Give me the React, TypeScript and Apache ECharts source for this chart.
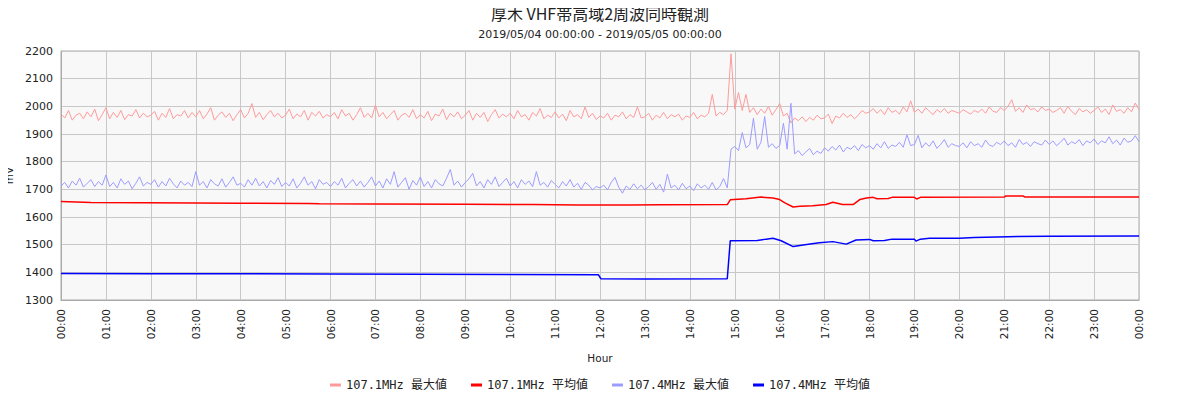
import React, { useEffect, useRef } from "react";
import * as echarts from "echarts";

const TITLE = "厚木 VHF帯高域2周波同時観測";
const SUBTITLE = "2019/05/04 00:00:00 - 2019/05/05 00:00:00";
const SERIES_NAMES = ["107.1MHz 最大値", "107.1MHz 平均値", "107.4MHz 最大値", "107.4MHz 平均値"];
const COLORS = ["#ff9a9a", "#ff0000", "#9c9cff", "#0000ff"];

// 5-minute samples, 00:00 .. 24:00
const max1071 = [
  1972, 1958, 1985, 1950, 1968, 1975, 1955, 1980, 1962, 1990, 1948, 1970,
  1995, 1955, 1978, 1960, 1985, 1952, 1970, 1965, 1988, 1958, 1975, 1962,
  1968, 1982, 1950, 1975, 1960, 1992, 1955, 1970, 1965, 1985, 1958, 1978,
  1962, 1985, 1955, 1972, 1995, 1950, 1968, 1980, 1960, 1975, 1948, 1970,
  1988, 1958, 1975, 2010, 1960, 1978, 1952, 1970, 1985, 1962, 1975, 1958,
  1968, 1990, 1955, 1972, 1962, 1985, 1950, 1978, 1965, 1982, 1958, 1970,
  1962, 1978, 1955, 1988, 1965, 1975, 1950, 1970, 1995, 1960, 1975, 1958,
  2004, 1962, 1978, 1955, 1970, 1985, 1950, 1968, 1975, 1960, 1988, 1955,
  1970, 1958, 1982, 1948, 1972, 1965, 1990, 1952, 1975, 1962, 1980, 1955,
  1968, 1985, 1950, 1975, 1960, 1978, 1945, 1970, 1988, 1958, 1972, 1962,
  1975, 1955, 1985, 1962, 1970, 1950, 1978, 1965, 1992, 1955, 1968, 1960,
  1980, 1958, 1972, 1948, 1985, 1962, 1970, 1955, 1998, 1960, 1975, 1952,
  1965, 1958, 1975, 1950, 1968, 1962, 1980, 1955, 1970, 1960, 1998, 1958,
  1962, 1975, 1950, 1968, 1958, 1978, 1955, 1970, 1962, 1972, 1950, 1965,
  1960, 1978, 1955, 1968, 1962, 1975, 2043, 1965, 1978, 1970, 1985, 2190,
  1990, 2050, 1985, 2043, 1978, 1995, 1970, 1990, 1975, 2000, 1968, 1988,
  2010, 1965, 1975, 1940, 1958, 1948, 1962, 1945, 1960, 1950, 1968, 1955,
  1958, 1972, 1938, 1965, 1958, 1975, 1960, 1970, 1955, 1968, 1985, 1975,
  1980, 1992, 1975, 1988, 1970, 1995, 1978, 1985, 1972, 1998, 1980, 2020,
  1978, 1990, 1975, 1995, 1982, 1970, 1988, 1978, 1992, 1975, 1985, 1980,
  1975, 1988, 1980, 1972, 1985, 1978, 1990, 1975, 1998, 1982, 1978, 1995,
  1985, 2000, 2024, 1982, 1995, 1978, 2005, 1988, 1992, 1980, 1998, 1985,
  1990, 1978, 1985, 1995, 1975, 2000, 1982, 1970, 1992, 1980, 1988, 1975,
  1985, 1998, 1978, 1990, 1970, 2005, 1982, 1988, 1975, 1995, 1980, 2012,
  1988,
];

const max1074 = [
  1712, 1725, 1705, 1730, 1715, 1740, 1708, 1722, 1735, 1710, 1728, 1715,
  1752, 1710, 1725, 1705, 1738, 1718, 1730, 1702, 1722, 1745, 1712, 1725,
  1718, 1735, 1708, 1728, 1712, 1740, 1720, 1705, 1730, 1715, 1725, 1710,
  1764, 1715, 1728, 1705, 1735, 1720, 1712, 1738, 1708, 1725, 1745, 1715,
  1722, 1708, 1735, 1715, 1740, 1712, 1728, 1705, 1732, 1718, 1742, 1710,
  1725, 1712, 1738, 1705, 1722, 1745, 1715, 1728, 1702, 1735, 1718, 1725,
  1710, 1728, 1715, 1740, 1705, 1722, 1735, 1712, 1730, 1708, 1725, 1745,
  1712, 1730, 1705, 1738, 1718, 1764, 1708, 1725, 1742, 1700, 1732, 1715,
  1745, 1710, 1728, 1705, 1735, 1720, 1712, 1740, 1772, 1715, 1730, 1708,
  1725, 1738, 1758, 1712, 1728, 1705, 1735, 1718, 1745, 1710, 1725, 1740,
  1712, 1728, 1705, 1735, 1718, 1730, 1710, 1764, 1715, 1725, 1708, 1732,
  1718, 1705, 1728, 1712, 1735, 1708, 1722, 1700, 1725, 1715, 1698, 1710,
  1705, 1715, 1698, 1725, 1743, 1708, 1686, 1712, 1700, 1720, 1702, 1715,
  1698, 1710, 1725, 1700, 1718, 1690, 1755, 1705, 1715, 1698, 1722, 1702,
  1712, 1695, 1720, 1705, 1715, 1700, 1725, 1698, 1710, 1739, 1705, 1845,
  1855, 1840, 1905, 1850, 1862, 1957, 1845, 1870, 1963, 1852, 1865, 1848,
  1858, 1939, 1845, 2011, 1828, 1840, 1822, 1835, 1848, 1825, 1838, 1830,
  1850, 1838, 1855, 1842, 1860, 1835, 1852, 1845, 1858, 1840, 1862, 1850,
  1858, 1845, 1865, 1850, 1872, 1848, 1860, 1855, 1870, 1852, 1897, 1858,
  1862, 1895, 1850, 1868, 1855, 1875, 1848, 1862, 1880, 1852, 1865, 1858,
  1855, 1868, 1850, 1872, 1858, 1865, 1852, 1878, 1860, 1855, 1870, 1862,
  1875, 1858, 1868, 1852, 1880, 1862, 1870, 1855, 1872, 1865, 1860, 1878,
  1862, 1875, 1858, 1870, 1885, 1860, 1872, 1865, 1880, 1858, 1875, 1868,
  1882, 1862, 1875, 1868, 1890, 1865, 1878, 1860, 1885, 1870, 1875, 1894,
  1872,
];

// [minute, value] readings of the average lines
const avg1071 = [
  [0, 1656], [40, 1652], [180, 1651], [240, 1650], [330, 1649], [345, 1648],
  [420, 1647], [540, 1646], [630, 1645], [690, 1643], [760, 1643], [800, 1644],
  [890, 1645], [894, 1662], [915, 1666], [935, 1672], [951, 1669], [960, 1663],
  [967, 1651], [978, 1636], [987, 1639], [1004, 1641], [1022, 1645], [1031, 1653],
  [1044, 1645], [1058, 1645], [1067, 1663], [1076, 1669], [1085, 1671], [1090, 1666],
  [1105, 1667], [1110, 1671], [1140, 1671], [1143, 1665], [1148, 1671], [1260, 1672],
  [1262, 1676], [1285, 1676], [1288, 1672], [1440, 1672],
];

const avg1074 = [
  [0, 1396], [120, 1395], [240, 1395], [360, 1394], [480, 1393], [600, 1392],
  [718, 1391], [721, 1377], [780, 1376], [890, 1377], [894, 1514], [930, 1515],
  [942, 1520], [951, 1523], [962, 1514], [978, 1493], [996, 1501], [1013, 1507],
  [1031, 1511], [1049, 1502], [1062, 1517], [1080, 1519], [1085, 1514], [1100, 1515],
  [1110, 1520], [1140, 1520], [1142, 1513], [1148, 1520], [1160, 1523], [1200, 1523],
  [1220, 1526], [1265, 1529], [1320, 1530], [1440, 1531],
];

const STEP_MIN = 5;
const toPairs = (arr: number[]) => arr.map((v, i) => [i * STEP_MIN, v]);

const pad = (n: number) => (n < 10 ? "0" + n : "" + n);

export default function App() {
  const ref = useRef<HTMLDivElement>(null);
  useEffect(() => {
    if (!ref.current) return;
    const chart = echarts.init(ref.current, null, { renderer: "svg" });
    const lineSeries = (name: string, data: any[], color: string, width: number) => ({
      name,
      type: "line",
      data,
      showSymbol: false,
      symbol: "none",
      lineStyle: { color, width },
      itemStyle: { color },
      emphasis: { disabled: true },
    });
    chart.setOption({
      animation: false,
      backgroundColor: "#ffffff",
      title: {
        text: TITLE,
        subtext: SUBTITLE,
        left: "center",
        top: 0,
        itemGap: 8,
        textStyle: { fontFamily: "Noto Sans CJK JP", fontSize: 16, fontWeight: "normal", color: "#222" },
        subtextStyle: { fontFamily: "DejaVu Sans", fontSize: 11, color: "#222" },
      },
      legend: {
        bottom: 4,
        left: "center",
        itemGap: 24,
        itemWidth: 11,
        itemHeight: 3,
        icon: "rect",
        textStyle: { fontFamily: "DejaVu Sans Mono, Noto Sans CJK JP", fontSize: 12, color: "#222" },
        data: SERIES_NAMES,
      },
      grid: {
        left: 61,
        right: 61,
        top: 51,
        bottom: 100,
        containLabel: false,
        outerBoundsMode: "none",
        show: true,
        backgroundColor: "#f8f8f8",
        borderColor: "#aaaaaa",
        borderWidth: 1,
      },
      xAxis: {
        type: "value",
        min: 0,
        max: 1440,
        interval: 60,
        name: "Hour",
        nameLocation: "middle",
        nameGap: 52,
        nameTextStyle: { fontFamily: "DejaVu Sans", fontSize: 10.5, color: "#222" },
        axisLine: { lineStyle: { color: "#aaaaaa" } },
        axisTick: { show: false },
        axisLabel: {
          rotate: 90,
          margin: 9,
          fontFamily: "DejaVu Sans",
          fontSize: 10.5,
          color: "#222",
          formatter: (v: number) => pad(Math.floor(v / 60) % 24) + ":00",
        },
        splitLine: { show: true, lineStyle: { color: "#c8c8c8" } },
      },
      yAxis: {
        type: "value",
        min: 1300,
        max: 2200,
        interval: 100,
        name: "mV",
        nameLocation: "middle",
        nameGap: 43,
        nameTextStyle: { fontFamily: "DejaVu Sans", fontSize: 10.5, color: "#222" },
        axisLine: { show: true, lineStyle: { color: "#aaaaaa" } },
        axisTick: { show: false },
        axisLabel: {
          margin: 8,
          fontFamily: "DejaVu Sans",
          fontSize: 11,
          color: "#222",
          formatter: (v: number) => String(v),
        },
        splitLine: { show: true, lineStyle: { color: "#c8c8c8" } },
      },
      series: [
        lineSeries(SERIES_NAMES[0], toPairs(max1071), COLORS[0], 1),
        lineSeries(SERIES_NAMES[1], avg1071, COLORS[1], 1.5),
        lineSeries(SERIES_NAMES[2], toPairs(max1074), COLORS[2], 1),
        lineSeries(SERIES_NAMES[3], avg1074, COLORS[3], 1.5),
      ],
    });
    return () => chart.dispose();
  }, []);
  return <div ref={ref} style={{ width: 1200, height: 400, margin: -8 }} />;
}
